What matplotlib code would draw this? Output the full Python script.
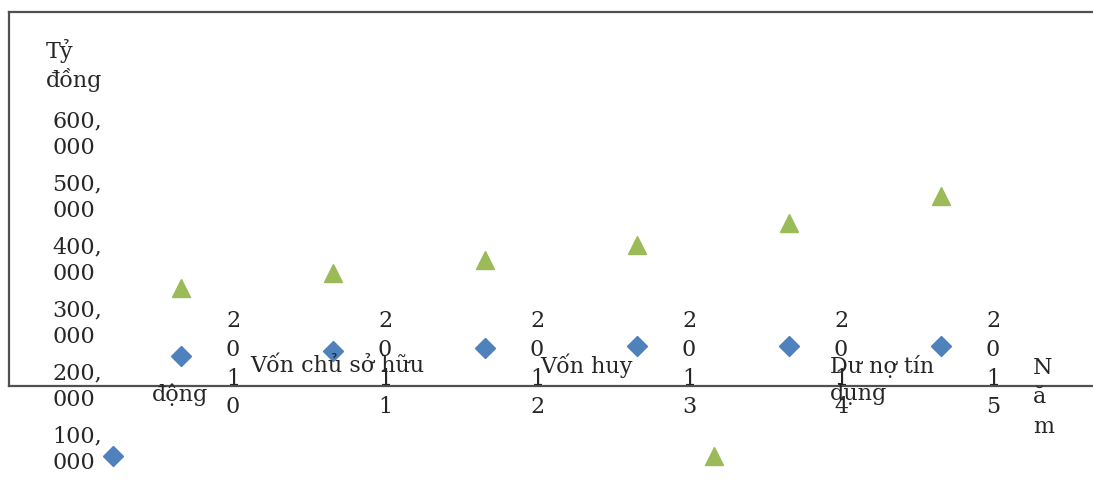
import matplotlib.pyplot as plt
import matplotlib.transforms as mtransforms
from matplotlib.lines import Line2D

years = ['2010', '2011', '2012', '2013', '2014', '2015']
von_huy_dong = [247000, 255000, 260000, 263500, 263500, 263500]
du_no = [355000, 379000, 400000, 424000, 459000, 501000]
y_ticks = [100000, 200000, 300000, 400000, 500000, 600000]
y_tick_labels = ['100,\n000', '200,\n000', '300,\n000', '400,\n000', '500,\n000', '600,\n000']

blue = '#4F81BD'
green = '#9BBB59'
W, H = 1093, 502
plt.rcParams['font.family'] = ['DejaVu Serif']

fig = plt.figure(figsize=(W / 100, H / 100), dpi=100)


def fx(px):
    return px / W


def fy(py):
    return 1 - py / H


# axes box: left edge x=9, top y=13, x axis line y=387
ax = fig.add_axes([fx(9), fy(387), fx(W - 9), (387 - 13) / H])
ax.set_xlim(-1.1316, 6.0)
ax.set_ylim(200000, 793650)
for s in ['left', 'top', 'bottom']:
    ax.spines[s].set_color('#505050')
    ax.spines[s].set_linewidth(1.6)
ax.spines['right'].set_visible(False)
ax.set_xticks([])
ax.set_yticks([])

x = list(range(len(years)))
ax.plot(x, von_huy_dong, 'D', color=blue, ms=10, clip_on=False, zorder=3)
ax.plot(x, du_no, '^', color=green, ms=13, clip_on=False, zorder=3)

fs = 16
txt = '#262626'
# y tick labels
for v, lab in zip(y_ticks, y_tick_labels):
    tr = mtransforms.blended_transform_factory(fig.transFigure, ax.transData)
    ax.text(fx(52), v, lab, transform=tr, ha='left', va='center', fontsize=fs,
            linespacing=1.27, clip_on=False, color=txt)

# x tick labels, written vertically
off = mtransforms.ScaledTranslation(52 / 100, 0, fig.dpi_scale_trans)
for i, yr in enumerate(years):
    tr = mtransforms.blended_transform_factory(ax.transData + off, fig.transFigure)
    ax.text(i, fy(310), '\n'.join(yr), transform=tr, ha='center', va='top',
            fontsize=fs, linespacing=1.4, clip_on=False, color=txt)

fig.text(fx(46), fy(39), 'Tỷ\nđồng', ha='left', va='top', fontsize=fs,
         linespacing=1.26, color=txt)
fig.text(fx(1033), fy(357), 'N\nă\nm', ha='left', va='top', fontsize=fs,
         linespacing=1.43, color=txt)

# legend, scattered
fig.text(fx(250), fy(366), 'Vốn chủ sở hữu', ha='left', va='center', fontsize=fs, color=txt)
fig.text(fx(540), fy(366), 'Vốn huy', ha='left', va='center', fontsize=fs, color=txt)
fig.text(fx(152), fy(395), 'động', ha='left', va='center', fontsize=fs, color=txt)
fig.text(fx(830), fy(366), 'Dư nợ tín', ha='left', va='center', fontsize=fs, color=txt)
fig.text(fx(830), fy(394), 'dụng', ha='left', va='center', fontsize=fs, color=txt)
fig.add_artist(Line2D([fx(113)], [fy(457)], marker='D', color=blue, ms=10, ls='none'))
fig.add_artist(Line2D([fx(714)], [fy(457)], marker='^', color=green, ms=13, ls='none'))

fig.savefig('out.png', dpi=100)
